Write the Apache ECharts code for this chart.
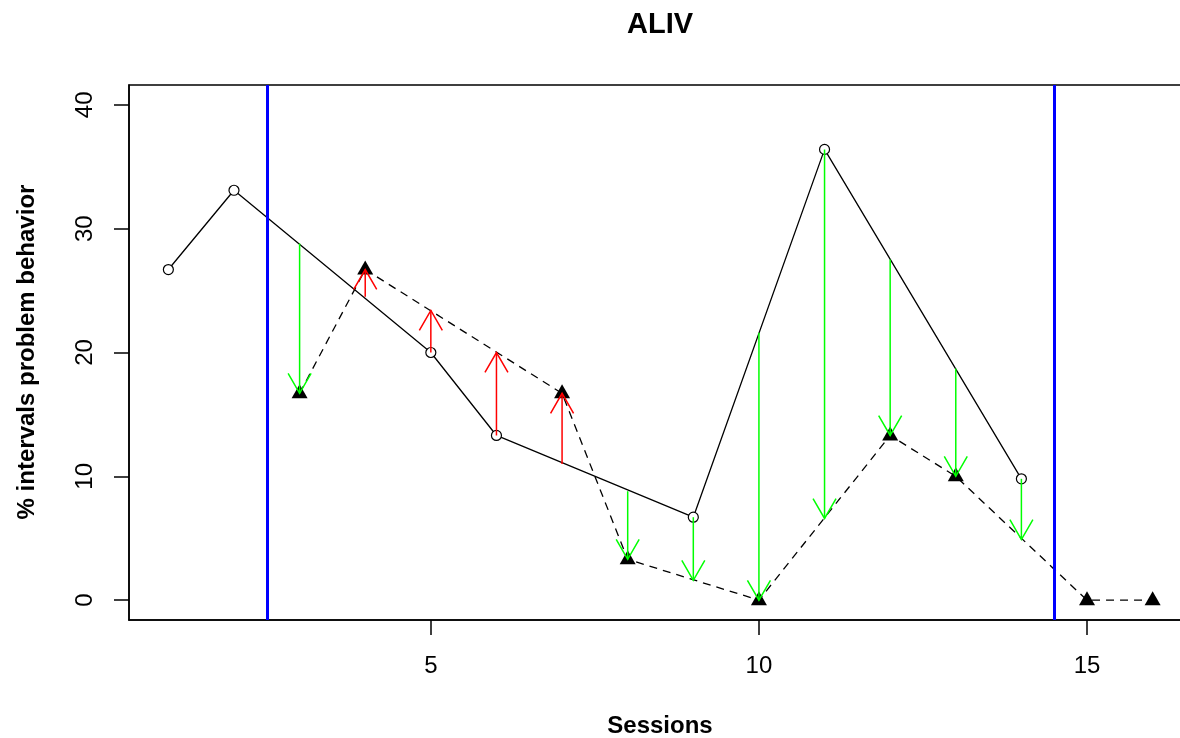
<!DOCTYPE html>
<html>
<head>
<meta charset="utf-8">
<title>ALIV</title>
<script src="https://cdn.jsdelivr.net/npm/echarts@6/dist/echarts.min.js"></script>
<style>
  html, body { margin: 0; padding: 0; background: #fff; }
  #chart { width: 1180px; height: 738px; }
</style>
</head>
<body>
<div id="chart"></div>
<script>
// Baseline sessions (solid line, open circles)
const baselineSessions = [1, 2, 5, 6, 9, 11, 14];
const baselineValues = [26.7, 33.1, 20.0, 13.3, 6.7, 36.4, 9.8];

// Treatment sessions (dashed line, filled triangles)
const treatmentSessions = [3, 4, 7, 8, 10, 12, 13, 15, 16];
const treatmentValues = [16.7, 26.7, 16.7, 3.3, 0, 13.3, 10.0, 0, 0];

// Change arrows within the phase: from solid-line level to dashed-line level
const arrowSessions = [3, 4, 5, 6, 7, 8, 9, 10, 11, 12, 13, 14];
const arrowFrom = [28.8, 24.5, 20.0, 13.3, 11.0, 8.8, 6.7, 21.6, 36.4, 27.5, 18.7, 9.8];
const arrowTo = [16.7, 26.7, 23.4, 20.0, 16.7, 3.3, 1.6, 0, 6.6, 13.3, 10.0, 4.9];

// Phase change lines
const phaseChanges = [2.5, 14.5];

// Axis ticks
const xTickValues = [5, 10, 15];
const yTickValues = [0, 10, 20, 30, 40];

const FONT = '"Liberation Sans", Arial, sans-serif';

const pairs = (xs, ys) => xs.map((x, i) => [x, ys[i]]);

const chart = echarts.init(document.getElementById('chart'));

// The plot region runs a little past the right edge of the canvas
const GRID = { left: 129, top: 85, width: 1063, height: 535 };

chart.setOption({
  animation: false,
  backgroundColor: '#ffffff',
  grid: {
    left: GRID.left, top: GRID.top, width: GRID.width, height: GRID.height,
    outerBoundsMode: 'none', containLabel: false,
    show: true, borderColor: '#000', borderWidth: 1.5, backgroundColor: 'transparent'
  },
  xAxis: {
    type: 'value', min: 0.4, max: 16.6,
    axisLine: { show: true, onZero: false, lineStyle: { color: '#000', width: 1.5 } },
    axisTick: { show: true, inside: false, length: 15, customValues: xTickValues,
                lineStyle: { color: '#000', width: 1.5 } },
    axisLabel: { customValues: xTickValues, margin: 34, color: '#000',
                 fontFamily: FONT, fontSize: 24, lineHeight: 24 },
    splitLine: { show: false }
  },
  yAxis: {
    type: 'value', min: -1.6, max: 41.6,
    axisLine: { show: true, onZero: false, lineStyle: { color: '#000', width: 1.5 } },
    axisTick: { show: true, inside: false, length: 15, customValues: yTickValues,
                lineStyle: { color: '#000', width: 1.5 } },
    axisLabel: { customValues: yTickValues, rotate: 90, margin: 32, color: '#000',
                 fontFamily: FONT, fontSize: 24, lineHeight: 24 },
    splitLine: { show: false }
  },
  graphic: [
    { type: 'text', x: 660, y: 25, silent: true,
      style: { text: 'ALIV', fontFamily: FONT, fontWeight: 'bold', fontSize: 29,
               fill: '#000', align: 'center', verticalAlign: 'middle' } },
    { type: 'text', x: 660, y: 726, silent: true,
      style: { text: 'Sessions', fontFamily: FONT, fontWeight: 'bold', fontSize: 24,
               fill: '#000', align: 'center', verticalAlign: 'middle' } },
    { type: 'text', x: 27, y: 352, rotation: Math.PI / 2, silent: true,
      style: { text: '% intervals problem behavior', fontFamily: FONT, fontWeight: 'bold',
               fontSize: 24, fill: '#000', align: 'center', verticalAlign: 'middle' } }
  ],
  series: [
    {
      name: 'baseline',
      type: 'line',
      data: pairs(baselineSessions, baselineValues),
      symbol: 'circle', symbolSize: 10, showAllSymbol: true,
      itemStyle: { color: '#fff', borderColor: '#000', borderWidth: 1.2 },
      lineStyle: { color: '#000', width: 1.3 },
      emphasis: { disabled: true }, silent: true, z: 2
    },
    {
      name: 'treatment',
      type: 'line',
      data: pairs(treatmentSessions, treatmentValues),
      symbol: 'triangle', symbolSize: [16, 14], symbolOffset: [0, -2], showAllSymbol: true,
      itemStyle: { color: '#000' },
      lineStyle: { color: '#000', width: 1.3, type: [8, 6] },
      emphasis: { disabled: true }, silent: true, z: 2
    },
    {
      name: 'phases',
      type: 'line',
      data: [],
      silent: true, z: 3,
      markLine: {
        silent: true, symbol: ['none', 'none'], animation: false,
        label: { show: false },
        lineStyle: { color: '#0000FF', width: 3, type: 'solid' },
        emphasis: { disabled: true },
        data: phaseChanges.map(v => ({ xAxis: v }))
      }
    },
    {
      name: 'change',
      type: 'custom',
      silent: true, z: 5,
      data: arrowSessions.map((s, i) => [s, arrowFrom[i], arrowTo[i]]),
      encode: { x: 0, y: [1, 2] },
      renderItem: function (params, api) {
        const s = api.value(0);
        const v0 = api.value(1), v1 = api.value(2);
        const p0 = api.coord([s, v0]);
        const p1 = api.coord([s, v1]);
        const color = v1 < v0 ? '#00FF00' : '#FF0000';
        const dir = p1[1] > p0[1] ? 1 : -1;
        const len = 23, ang = Math.PI / 6;
        const dx = len * Math.sin(ang), dy = len * Math.cos(ang);
        return {
          type: 'group',
          children: [
            { type: 'line',
              shape: { x1: p0[0], y1: p0[1], x2: p1[0], y2: p1[1] },
              style: { stroke: color, lineWidth: 1.5 } },
            { type: 'polyline',
              shape: { points: [[p1[0] - dx, p1[1] - dir * dy], [p1[0], p1[1]], [p1[0] + dx, p1[1] - dir * dy]] },
              style: { stroke: color, fill: null, lineWidth: 1.5 } }
          ]
        };
      }
    }
  ]
});
</script>
</body>
</html>
